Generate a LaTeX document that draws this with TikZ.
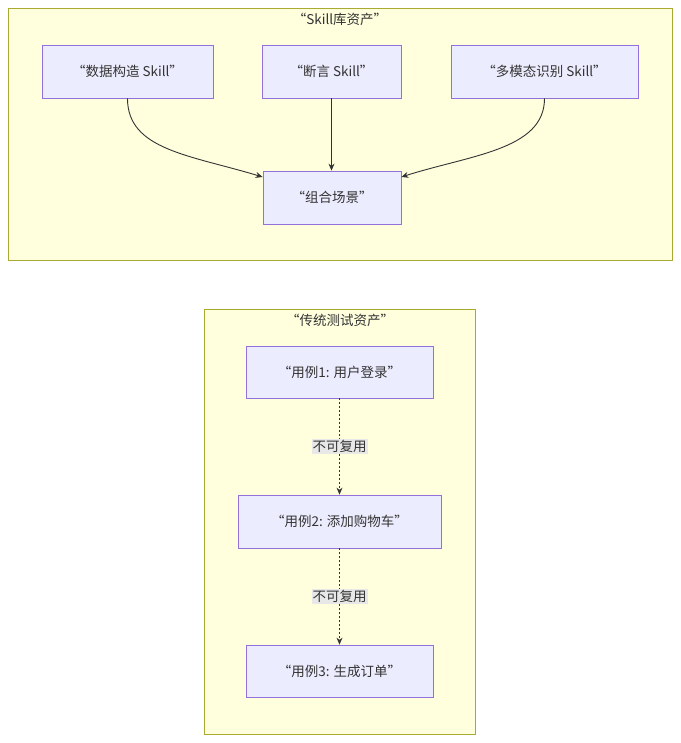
\documentclass[tikz,border=0pt]{standalone}
\usepackage{fontspec}
\setmainfont{Noto Sans CJK SC}
\usetikzlibrary{arrows.meta}
\definecolor{nfill}{HTML}{ECECFF}
\definecolor{nline}{HTML}{9370DB}
\definecolor{cfill}{HTML}{FFFFDE}
\definecolor{cline}{HTML}{AAAA33}
\definecolor{ecol}{HTML}{333333}
\begin{document}
\begin{tikzpicture}[x=1pt,y=-1pt,font=\fontsize{13.5}{16}\selectfont,
  nd/.style={draw=nline,fill=nfill,line width=0.8pt,minimum height=53pt,text=ecol},
  cl/.style={draw=cline,fill=cfill,line width=0.8pt},
  ar/.style={draw=ecol,line width=0.9pt,-{Stealth[length=7pt,width=6pt]}},
  da/.style={ar,dash pattern=on 2pt off 2pt},
  lb/.style={fill=black!9,inner sep=1pt,text=ecol}]
\useasboundingbox (0,0) rectangle (680,743);
\draw[cl] (8,8) rectangle (672,260);
\node[text=ecol] (t1) at (340,19) {“Skill库资产”};
\draw[cl] (204,309) rectangle (475,734);
\node[text=ecol] (t2) at (340,320) {“传统测试资产”};
\node[nd,minimum width=171pt] (A) at (127.5,71.5) {“数据构造 Skill”};
\node[nd,minimum width=139pt] (B) at (331.5,71.5) {“断言 Skill”};
\node[nd,minimum width=187pt] (C) at (544.5,71.5) {“多模态识别 Skill”};
\node[nd,minimum width=138pt] (D) at (332,197.5) {“组合场景”};
\node[nd,minimum width=187pt,minimum height=52pt] (E) at (339.5,372) {“用例1: 用户登录”};
\node[nd,minimum width=203pt] (F) at (339.5,521.5) {“用例2: 添加购物车”};
\node[nd,minimum width=187pt,minimum height=52pt] (G) at (339.5,671) {“用例3: 生成订单”};
\draw[ar] (A.south) .. controls (127.5,150) and (190,155) .. (D.north west|-0,177);
\draw[ar] (B.south) -- (D.north-|B.south);
\draw[ar] (C.south) .. controls (544.5,150) and (470,155) .. (D.north east|-0,177);
\draw[da] (E) -- node[lb] {不可复用} (F);
\draw[da] (F) -- node[lb] {不可复用} (G);
\end{tikzpicture}
\end{document}
